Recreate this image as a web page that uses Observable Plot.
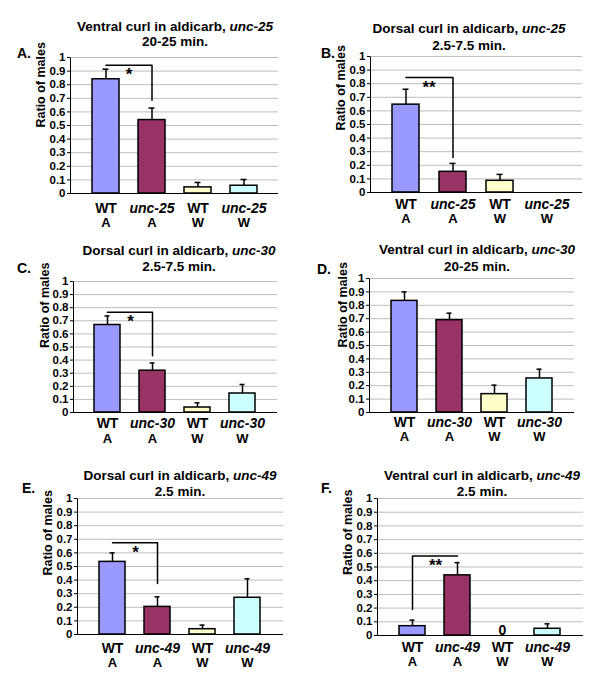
<!DOCTYPE html>
<html><head><meta charset="utf-8">
<script src="https://cdn.jsdelivr.net/npm/d3@7"></script>
<script src="https://cdn.jsdelivr.net/npm/@observablehq/plot@0.6"></script>
<style>
body{margin:0;background:#fff;font-family:"Liberation Sans",Arial,sans-serif;}
#fig{position:relative;width:600px;height:687px;overflow:hidden;background:#fff;}
.panel{position:absolute;}
.title{position:absolute;transform:translate(-50%,-50%);white-space:nowrap;font-weight:bold;font-size:13.5px;line-height:1;color:#000;}
.letter{position:absolute;font-weight:bold;font-size:14px;line-height:1;transform:translateY(-50%);color:#000;}
</style></head><body><div id="fig"></div>
<script>
// ---------- data ----------
const panelLetters = ["A.", "B.", "C.", "D.", "E.", "F."];
const curlTypes = ["Ventral", "Dorsal", "Dorsal", "Ventral", "Dorsal", "Ventral"];
const genes = ["unc-25", "unc-25", "unc-30", "unc-30", "unc-49", "unc-49"];
const timeWindows = ["20-25 min.", "2.5-7.5 min.", "2.5-7.5 min.", "20-25 min.", "2.5 min.", "2.5 min."];
const strains = ["WT", "mutant", "WT", "mutant"];
const conditions = ["A", "A", "W", "W"];
const barColors = ["#9999ff", "#993366", "#ffffcc", "#ccffff"];
const means = [
  [0.84, 0.54, 0.045, 0.057],
  [0.646, 0.152, 0.086, 0],
  [0.668, 0.319, 0.038, 0.145],
  [0.833, 0.689, 0.137, 0.254],
  [0.534, 0.203, 0.039, 0.27],
  [0.068, 0.439, 0, 0.049]
];
const sems = [
  [0.074, 0.088, 0.036, 0.046],
  [0.113, 0.062, 0.047, null],
  [0.069, 0.059, 0.036, 0.069],
  [0.067, 0.052, 0.067, 0.069],
  [0.066, 0.074, 0.030, 0.14],
  [0.044, 0.093, null, 0.036]
];
const zeroLabels = [
  [null, null, null, null],
  [null, null, null, null],
  [null, null, null, null],
  [null, null, null, null],
  [null, null, null, null],
  [null, null, "0", null]
];
const sigLabels = ["*", "**", "*", null, "*", "**"];
const sigStart = [0.943, 0.845, 0.765, null, 0.674, 0.19];  // bracket end at WT A
const sigTop   = [0.943, 0.845, 0.765, null, 0.674, 0.58];  // bracket horizontal level
const sigEnd   = [0.685, 0.258, 0.434, null, 0.375, 0.58];  // bracket end at mutant A
const yTicks = [0, 0.1, 0.2, 0.3, 0.4, 0.5, 0.6, 0.7, 0.8, 0.9, 1];
const yLabel = "Ratio of males";

// ---------- layout ----------
const layout = [
  {x0:0,   y0:0,   H:225, mL:70, mR:22, mT:57, mB:32, tx:175, ty1:27,  ty2:42,  lx:17,  ly:53,  xl1:15, xl2:29, yDx:-30, yDy:2},
  {x0:300, y0:0,   H:225, mL:70, mR:18, mT:56, mB:33, tx:469, ty1:29,  ty2:46,  lx:321, ly:53,  xl1:12, xl2:26, yDx:-30, yDy:6},
  {x0:0,   y0:225, H:230, mL:73, mR:23, mT:56, mB:43, tx:179, ty1:251, ty2:267, lx:17,  ly:268, xl1:11, xl2:26, yDx:-29, yDy:1},
  {x0:300, y0:225, H:230, mL:69, mR:26, mT:53, mB:43, tx:477, ty1:250, ty2:267, lx:317, ly:269, xl1:10, xl2:24, yDx:-27, yDy:2},
  {x0:0,   y0:455, H:232, mL:77, mR:17, mT:43, mB:53, tx:180, ty1:476, ty2:492, lx:22,  ly:488, xl1:14, xl2:28, yDx:-30, yDy:9},
  {x0:300, y0:455, H:232, mL:77, mR:17, mT:43, mB:52, tx:482, ty1:476, ty2:492, lx:321, ly:488, xl1:12, xl2:26, yDx:-30, yDy:8}
];

const fig = document.getElementById("fig");
const FONT = "'Liberation Sans', Arial, sans-serif";

function addDiv(cls, html, x, y) {
  const d = document.createElement("div");
  d.className = cls;
  d.innerHTML = html;
  d.style.left = x + "px";
  d.style.top = y + "px";
  fig.appendChild(d);
}

layout.forEach((L, i) => {
  const gene = genes[i];
  const rows = conditions.map((c, j) => ({
    id: j,
    strain: strains[j] === "WT" ? "WT" : gene,
    italic: strains[j] !== "WT",
    cond: c,
    mean: means[i][j],
    sem: sems[i][j],
    color: barColors[j],
    zero: zeroLabels[i][j]
  }));
  const errRows = rows.filter(d => d.sem != null);
  const fw = 300 - L.mL - L.mR;
  const fh = L.H - L.mT - L.mB;
  const marks = [
    Plot.gridY(yTicks, {stroke: "#bdbdbd", strokeOpacity: 1, strokeWidth: 1}),
    Plot.axisY(yTicks, {tickSize: 3, tickPadding: 2, tickFormat: d => String(d), label: null, fontSize: 11.5, fontWeight: "bold"}),
    // left axis line only (frame with the other three sides dashed away)
    Plot.frame({stroke: "black", strokeWidth: 1, strokeDasharray: `0,${2 * fw + fh},${fh}`}),
    Plot.barY(rows.filter(d => d.mean > 0), {x: "id", y: "mean", fill: "color", stroke: "black", strokeWidth: 1.5}),
    Plot.ruleX(errRows, {x: "id", y1: "mean", y2: d => d.mean + d.sem, stroke: "black", strokeWidth: 1.5}),
    Plot.tickY(errRows, {x: "id", y: d => d.mean + d.sem, stroke: "black", strokeWidth: 1.5, insetLeft: 10.5, insetRight: 10.5}),
    Plot.ruleY([0], {stroke: "black", strokeWidth: 1}),
    Plot.text(rows.filter(d => !d.italic), {x: "id", text: "strain", frameAnchor: "bottom", dy: L.xl1, lineAnchor: "middle", fontSize: 14, fontWeight: "bold"}),
    Plot.text(rows.filter(d => d.italic), {x: "id", text: "strain", frameAnchor: "bottom", dy: L.xl1, lineAnchor: "middle", fontSize: 14, fontWeight: "bold", fontStyle: "italic"}),
    Plot.text(rows, {x: "id", text: "cond", frameAnchor: "bottom", dy: L.xl2, lineAnchor: "middle", fontSize: 13, fontWeight: "bold"}),
    Plot.text(rows.filter(d => d.zero), {x: "id", y: 0, text: "zero", lineAnchor: "bottom", dy: -1, fontSize: 14, fontWeight: "bold"}),
    Plot.text([yLabel], {frameAnchor: "left", rotate: -90, dx: L.yDx, dy: L.yDy, fontSize: 12.5, fontWeight: "bold"})
  ];
  if (sigLabels[i]) {
    const br = [
      {id: 0, v: sigStart[i]},
      {id: 0, v: sigTop[i]},
      {id: 1, v: sigTop[i]},
      {id: 1, v: sigEnd[i]}
    ];
    marks.push(Plot.line(br, {x: "id", y: "v", stroke: "black", strokeWidth: 1.5}));
    marks.push(Plot.text([{id: 0, v: sigTop[i], t: sigLabels[i]}], {x: "id", y: "v", text: "t", dx: 23, dy: 3, lineAnchor: "top", fontSize: 17, fontWeight: "bold"}));
  }
  const chart = Plot.plot({
    width: 300,
    height: L.H,
    marginLeft: L.mL,
    marginRight: L.mR,
    marginTop: L.mT,
    marginBottom: L.mB,
    style: {fontFamily: FONT, fontWeight: "bold", fontSize: "11.5px", background: "transparent", color: "black", overflow: "visible"},
    x: {type: "band", domain: [0, 1, 2, 3], paddingInner: 0.42, paddingOuter: 0.45, axis: null},
    y: {domain: [0, 1], axis: null},
    color: {type: "identity"},
    marks
  });
  const wrap = document.createElement("div");
  wrap.className = "panel";
  wrap.style.left = L.x0 + "px";
  wrap.style.top = L.y0 + "px";
  wrap.appendChild(chart);
  fig.appendChild(wrap);

  addDiv("title", curlTypes[i] + " curl in aldicarb, <i>" + gene + "</i>", L.tx, L.ty1);
  addDiv("title", timeWindows[i], L.tx, L.ty2);
  addDiv("letter", panelLetters[i], L.lx, L.ly);
});
</script>
</body></html>
